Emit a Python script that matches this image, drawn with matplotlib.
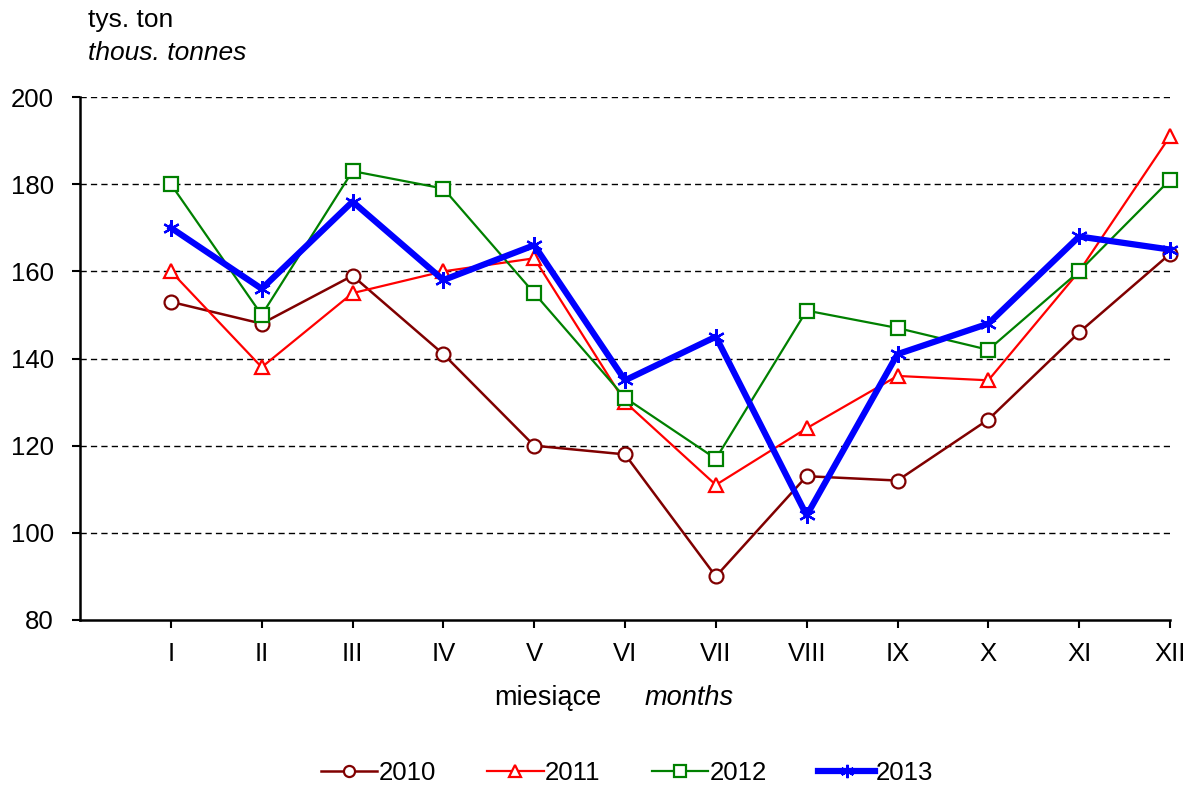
import matplotlib
matplotlib.use("Agg")
import matplotlib.pyplot as plt

plt.rcParams["font.family"] = ["Liberation Sans", "DejaVu Sans"]

# dane (tys. ton)
months = ["I", "II", "III", "IV", "V", "VI", "VII", "VIII", "IX", "X", "XI", "XII"]
y2010 = [153, 148, 159, 141, 120, 118, 90, 113, 112, 126, 146, 164]
y2011 = [160, 138, 155, 160, 163, 130, 111, 124, 136, 135, 160, 191]
y2012 = [180, 150, 183, 179, 155, 131, 117, 151, 147, 142, 160, 181]
y2013 = [170, 156, 176, 158, 166, 135, 145, 104, 141, 148, 168, 165]
yticks = [80, 100, 120, 140, 160, 180, 200]

x = list(range(1, len(months) + 1))

fig = plt.figure(figsize=(11.86, 7.87), dpi=100)
ax = fig.add_axes([0.0675, 0.2122, 0.9190, 0.6645])

ax.plot(x, y2010, color="#800000", lw=1.8, marker="o", ms=10, mfc="white",
        mec="#800000", mew=1.6, label="2010", clip_on=False, zorder=3)
ax.plot(x, y2011, color="#ff0000", lw=1.6, marker="^", ms=10, mfc="white",
        mec="#ff0000", mew=1.6, label="2011", clip_on=False, zorder=3)
ax.plot(x, y2012, color="#008000", lw=1.6, marker="s", ms=10, mfc="white",
        mec="#008000", mew=1.6, label="2012", clip_on=False, zorder=3)
ax.plot(x, y2013, color="#0000ff", lw=4.5, marker=(6, 2, 0), ms=12,
        mec="#0000ff", mew=1.6, label="2013", clip_on=False, zorder=4)

ax.set_xlim(0, 12)
ax.set_ylim(80, 200)
ax.set_xticks(x)
ax.set_xticklabels(months)
ax.set_yticks(yticks)
ax.tick_params(axis="both", labelsize=18.5, length=6, width=1.5, direction="out")
ax.tick_params(axis="x", pad=10)
ax.tick_params(axis="y", pad=13)

for y in yticks[1:]:
    ax.axhline(y, color="black", lw=1, ls=(0, (4.5, 3)), zorder=1)

for s in ["top", "right"]:
    ax.spines[s].set_visible(False)
for s in ["left", "bottom"]:
    ax.spines[s].set_linewidth(1.8)

fig.text(88 / 1186, 1 - 20 / 787, "tys. ton", fontsize=19, va="center", ha="left")
fig.text(88 / 1186, 1 - 53 / 787, "thous. tonnes", fontsize=19, style="italic",
         va="center", ha="left")

fig.text(494 / 1186, 1 - 698 / 787, "miesiące", fontsize=19.5, va="center", ha="left")
fig.text(645 / 1186, 1 - 698 / 787, "months", fontsize=19.5, style="italic",
         va="center", ha="left")

leg = fig.legend(loc="center", bbox_to_anchor=(627 / 1186, 1 - 773 / 787), ncol=4,
                 frameon=False, fontsize=18.5, handlelength=2.2, handletextpad=0.05,
                 columnspacing=2.0, markerscale=0.8)

fig.savefig("out.png", dpi=100, facecolor="white")
